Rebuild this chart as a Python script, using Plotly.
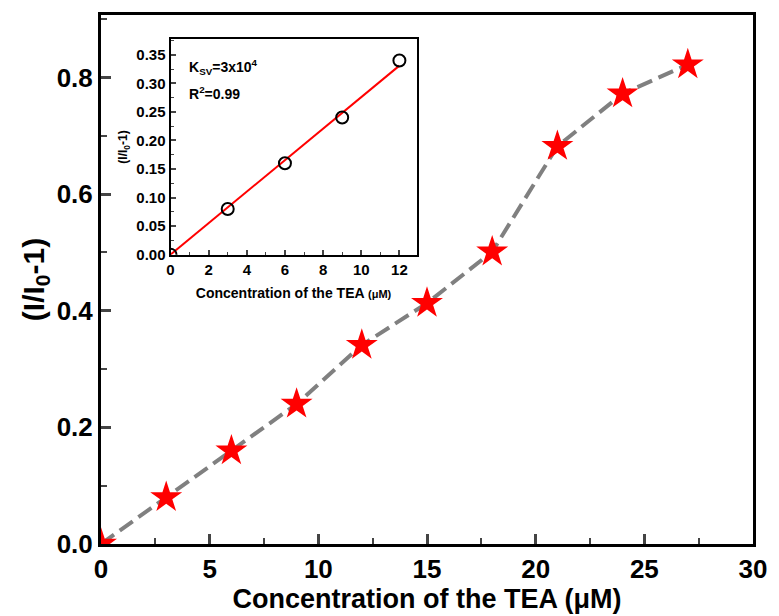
import plotly.graph_objects as go

conc = [0, 3, 6, 9, 12, 15, 18, 21, 24, 27]
resp = [0.0, 0.08, 0.16, 0.24, 0.341, 0.413, 0.501, 0.682, 0.772, 0.822]

inset_conc = [0, 3, 6, 9, 12]
inset_resp = [0.0, 0.08, 0.16, 0.24, 0.34]
fit_x = [0, 12]
fit_y = [0.0, 0.331]

main_ticks_x = [0, 5, 10, 15, 20, 25, 30]
main_ticks_y = [0.0, 0.2, 0.4, 0.6, 0.8]
inset_ticks_x = [0, 2, 4, 6, 8, 10, 12]
inset_ticks_y = [0.0, 0.05, 0.10, 0.15, 0.20, 0.25, 0.30, 0.35]

FONT = "Liberation Sans, Arial, sans-serif"

fig = go.Figure()
fig.add_trace(go.Scatter(
    x=conc, y=resp, mode="lines+markers",
    line=dict(color="#808080", width=4, dash="16px,7px"),
    marker=dict(symbol="star", size=24, color="#ff0000", line=dict(width=0)),
    cliponaxis=True, showlegend=False, xaxis="x", yaxis="y"))

fig.add_trace(go.Scatter(
    x=fit_x, y=fit_y, mode="lines",
    line=dict(color="#ff0000", width=2),
    showlegend=False, xaxis="x2", yaxis="y2"))
fig.add_trace(go.Scatter(
    x=inset_conc, y=inset_resp, mode="markers",
    marker=dict(symbol="circle-open", size=12, color="black", line=dict(width=2, color="black")),
    cliponaxis=True, showlegend=False, xaxis="x2", yaxis="y2"))

fig.update_layout(
    width=779, height=616,
    margin=dict(l=101, r=15, t=12, b=72),
    paper_bgcolor="white", plot_bgcolor="white",
    font=dict(family=FONT, color="black"),
    xaxis=dict(
        range=[0, 30], tickvals=main_ticks_x, ticks="inside", ticklen=10, tickwidth=2.5,
        showline=True, linewidth=3, linecolor="black", mirror=True, showgrid=False, zeroline=False,
        tickfont=dict(size=26, family=FONT, weight="bold"),
        minor=dict(dtick=2.5, ticks="inside", ticklen=6, tickwidth=2),
        title=dict(text="<b>Concentration of the TEA (μM)</b>", font=dict(size=27), standoff=0),
    ),
    yaxis=dict(
        range=[0, 0.907], tickvals=main_ticks_y, tickformat=".1f", ticks="inside", ticklen=10, tickwidth=2.5,
        showline=True, linewidth=3, linecolor="black", mirror=True, showgrid=False, zeroline=False,
        tickfont=dict(size=26, family=FONT, weight="bold"),
        minor=dict(dtick=0.1, ticks="inside", ticklen=6, tickwidth=2),
        title=dict(text="<b>(I/I<sub>0</sub>-1)</b>", font=dict(size=30), standoff=4),
    ),
    xaxis2=dict(
        domain=[0.1066, 0.484], anchor="y2", range=[0, 12.9], tickvals=inset_ticks_x,
        ticks="inside", ticklen=5, tickwidth=1.5,
        showline=True, linewidth=2, linecolor="black", mirror=True, showgrid=False, zeroline=False,
        tickfont=dict(size=15, family=FONT, weight="bold"),
        minor=dict(dtick=1, ticks="inside", ticklen=3, tickwidth=1),
        title=dict(text="<b>Concentration of the TEA <span style='font-size:11px'>(μM)</span></b>",
                   font=dict(size=14), standoff=12),
    ),
    yaxis2=dict(
        domain=[0.547, 0.954], anchor="x2", range=[0, 0.377], tickvals=inset_ticks_y, tickformat=".2f",
        ticks="inside", ticklen=5, tickwidth=1.5,
        showline=True, linewidth=2, linecolor="black", mirror=True, showgrid=False, zeroline=False,
        tickfont=dict(size=15, family=FONT, weight="bold"),
        minor=dict(dtick=0.025, ticks="inside", ticklen=3, tickwidth=1),
        title=dict(text="<b>(I/I<sub>0</sub>-1)</b>", font=dict(size=12), standoff=6),
    ),
    annotations=[
        dict(xref="x2", yref="y2", x=0.85, y=0.328, xanchor="left", yanchor="middle", showarrow=False,
             text="<b>K<sub>SV</sub>=3x10<sup>4</sup></b>", font=dict(size=14, family=FONT)),
        dict(xref="x2", yref="y2", x=0.85, y=0.283, xanchor="left", yanchor="middle", showarrow=False,
             text="<b>R<sup>2</sup>=0.99</b>", font=dict(size=14, family=FONT)),
    ],
)

fig.write_html("out.html")
